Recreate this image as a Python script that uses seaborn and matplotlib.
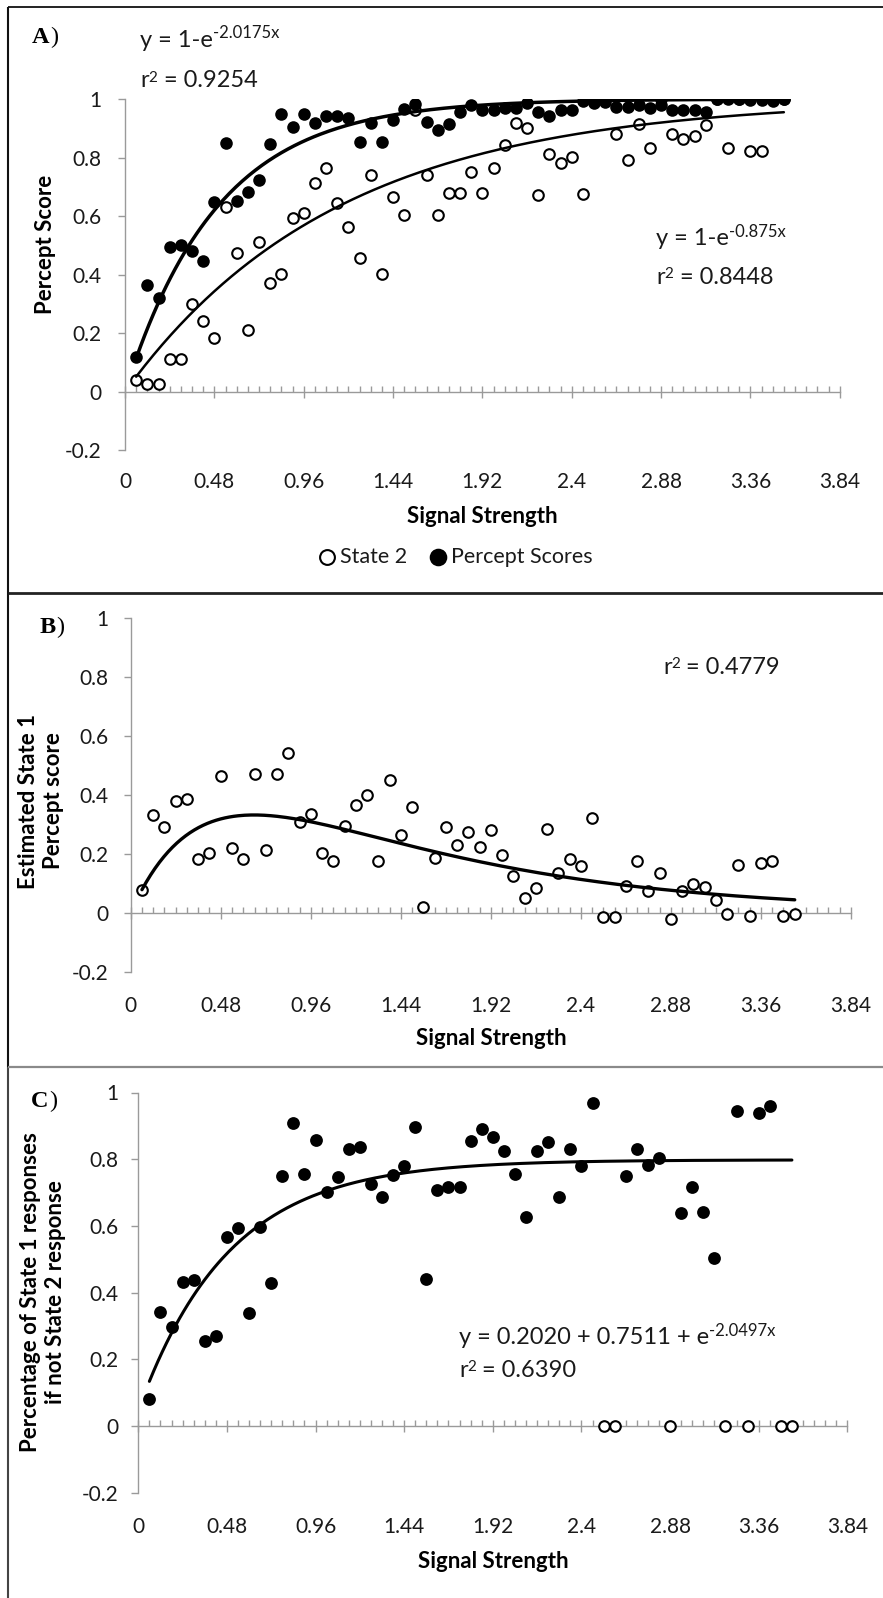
import numpy as np
import matplotlib
matplotlib.use("Agg")
import matplotlib.pyplot as plt
import seaborn as sns
from matplotlib.lines import Line2D
from matplotlib.text import Annotation
from matplotlib.ticker import FixedLocator, MultipleLocator

# ---------------- data ----------------
signal_strength = [0.06, 0.12, 0.18, 0.24, 0.30, 0.36, 0.42, 0.48, 0.54, 0.60,
                   0.66, 0.72, 0.78, 0.84, 0.90, 0.96, 1.02, 1.08, 1.14, 1.20,
                   1.26, 1.32, 1.38, 1.44, 1.50, 1.56, 1.62, 1.68, 1.74, 1.80,
                   1.86, 1.92, 1.98, 2.04, 2.10, 2.16, 2.22, 2.28, 2.34, 2.40,
                   2.46, 2.52, 2.58, 2.64, 2.70, 2.76, 2.82, 2.88, 2.94, 3.00,
                   3.06, 3.12, 3.18, 3.24, 3.30, 3.36, 3.42, 3.48, 3.54]

percept_scores = [0.12, 0.365, 0.32, 0.495, 0.50, 0.48, 0.447, 0.647, 0.849, 0.653,
                  0.681, 0.723, 0.845, 0.948, 0.903, 0.948, 0.917, 0.942, 0.942, 0.934,
                  0.854, 0.919, 0.854, 0.928, 0.965, 0.983, 0.922, 0.894, 0.915, 0.957,
                  0.98, 0.962, 0.962, 0.968, 0.97, 0.985, 0.957, 0.942, 0.962, 0.962,
                  0.994, 0.987, 0.99, 0.974, 0.974, 0.98, 0.968, 0.98, 0.962, 0.962,
                  0.962, 0.957, 1.0, 1.0, 1.0, 0.995, 0.995, 0.994, 1.0]

state2_scores = [0.04, 0.026, 0.026, 0.11, 0.11, 0.30, 0.242, 0.182, 0.63, 0.473,
                 0.21, 0.512, 0.372, 0.402, 0.592, 0.612, 0.714, 0.763, 0.644, 0.564,
                 0.456, 0.74, 0.402, 0.664, 0.604, 0.962, 0.74, 0.604, 0.68, 0.68,
                 0.752, 0.68, 0.763, 0.843, 0.919, 0.902, 0.672, 0.811, 0.782, 0.803,
                 0.674, 1.0, 1.0, 0.88, 0.79, 0.913, 0.831, 1.0, 0.88, 0.862,
                 0.874, 0.911, 1.0, 0.831, 1.0, 0.822, 0.822, 1.0, 1.0]

state1_estimate = [0.078, 0.332, 0.29, 0.379, 0.386, 0.182, 0.204, 0.465, 0.219, 0.182,
                   0.469, 0.213, 0.469, 0.542, 0.309, 0.335, 0.204, 0.176, 0.295, 0.365,
                   0.399, 0.176, 0.45, 0.264, 0.357, 0.019, 0.185, 0.29, 0.23, 0.275,
                   0.224, 0.281, 0.196, 0.125, 0.05, 0.083, 0.283, 0.134, 0.182, 0.159,
                   0.32, -0.016, -0.016, 0.089, 0.174, 0.072, 0.134, -0.021, 0.075, 0.098,
                   0.087, 0.044, -0.005, 0.162, -0.012, 0.17, 0.174, -0.012, -0.005]

c_signal = [0.06, 0.12, 0.18, 0.24, 0.30, 0.36, 0.42, 0.48, 0.54, 0.60,
            0.66, 0.72, 0.78, 0.84, 0.90, 0.96, 1.02, 1.08, 1.14, 1.20,
            1.26, 1.32, 1.38, 1.44, 1.50, 1.56, 1.62, 1.68, 1.74, 1.80,
            1.86, 1.92, 1.98, 2.04, 2.10, 2.16, 2.22, 2.28, 2.34, 2.40,
            2.46, 2.64, 2.70, 2.76, 2.82, 2.94, 3.00, 3.06, 3.12, 3.24,
            3.36, 3.42]
c_state1_share = [0.08, 0.341, 0.298, 0.431, 0.438, 0.255, 0.27, 0.568, 0.593, 0.338,
                  0.598, 0.428, 0.75, 0.908, 0.755, 0.858, 0.703, 0.748, 0.83, 0.836,
                  0.726, 0.688, 0.753, 0.781, 0.898, 0.442, 0.708, 0.718, 0.718, 0.856,
                  0.89, 0.866, 0.826, 0.755, 0.628, 0.826, 0.853, 0.688, 0.83, 0.78,
                  0.97, 0.75, 0.83, 0.783, 0.803, 0.64, 0.718, 0.643, 0.505, 0.946,
                  0.938, 0.96]
c_zero_signal = [2.52, 2.58, 2.88, 3.18, 3.30, 3.48, 3.54]
c_zero_share = [0, 0, 0, 0, 0, 0, 0]

x_ticks = [0, 0.48, 0.96, 1.44, 1.92, 2.4, 2.88, 3.36, 3.84]
x_ticklabels = ["0", "0.48", "0.96", "1.44", "1.92", "2.4", "2.88", "3.36", "3.84"]
y_ticks = [-0.2, 0, 0.2, 0.4, 0.6, 0.8, 1]
y_ticklabels = ["-0.2", "0", "0.2", "0.4", "0.6", "0.8", "1"]

# trendline coefficients
fit_percept_rate = 2.0175
fit_state2_rate = 0.875
fit_b_amp, fit_b_slow, fit_b_fast = 0.876, 0.846, 2.485
fit_c_top, fit_c_amp, fit_c_rate = 0.798, 0.7511, 2.0497
fit_x_min, fit_x_max = 0.06, 3.54

# ---------------- style ----------------
sns.set_theme(style="white")
plt.rcParams["font.family"] = ["Lato", "DejaVu Sans"]

AXIS_GRAY = "#9a9a9a"
TXT = "#1a1a1a"
W, H = 883, 1598


def fx(px):
    return px / W


def fy(py):
    return 1 - py / H


fig = plt.figure(figsize=(W / 100, H / 100), dpi=100)
fig.patch.set_facecolor("white")


def make_axes(l, r, t, b):
    return fig.add_axes([fx(l), fy(b), fx(r) - fx(l), fy(t) - fy(b)])


axA = make_axes(125, 839.7, 99, 450.2)
axB = make_axes(130.7, 851, 617.7, 971.7)
axC = make_axes(138.3, 847.3, 1092.5, 1492.7)


def style_axes(ax, ypad, xpad):
    ax.set_xlim(0, 3.84)
    ax.set_ylim(-0.2, 1)
    ax.set_facecolor("white")
    for s in ["top", "right"]:
        ax.spines[s].set_visible(False)
    ax.spines["left"].set_color(AXIS_GRAY)
    ax.spines["left"].set_linewidth(1.0)
    ax.spines["bottom"].set_position(("data", 0))
    ax.spines["bottom"].set_color(AXIS_GRAY)
    ax.spines["bottom"].set_linewidth(1.0)
    ax.xaxis.set_major_locator(FixedLocator(x_ticks))
    ax.xaxis.set_minor_locator(MultipleLocator(0.06))
    ax.tick_params(axis="x", which="major", direction="inout", length=8.5,
                   width=1, color=AXIS_GRAY, labelbottom=False, bottom=True)
    ax.tick_params(axis="x", which="minor", direction="in", length=4,
                   width=1, color=AXIS_GRAY, bottom=True)
    ax.set_yticks(y_ticks)
    ax.set_yticklabels(y_ticklabels)
    ax.tick_params(axis="y", which="major", direction="out", length=5, width=1,
                   color=AXIS_GRAY, pad=ypad, labelsize=15, labelcolor=TXT, left=True)
    ax.set_xlabel("")
    ax.set_ylabel("")
    sec = ax.secondary_xaxis("bottom")
    sec.set_xticks(x_ticks, labels=x_ticklabels)
    sec.tick_params(length=0, pad=xpad, labelsize=15, labelcolor=TXT)
    sec.spines["bottom"].set_visible(False)


# ---------------- panel A ----------------
sns.scatterplot(x=signal_strength, y=state2_scores, ax=axA, s=58, color="white",
                edgecolor="black", linewidth=1.5, zorder=3, label="State 2")
sns.scatterplot(x=signal_strength, y=percept_scores, ax=axA, s=82, color="black",
                edgecolor="black", linewidth=0, zorder=4, label="Percept Scores")
fit_x = np.linspace(fit_x_min, fit_x_max, 300)
sns.lineplot(x=fit_x, y=1 - np.exp(-fit_percept_rate * fit_x), ax=axA, color="black",
             linewidth=2.5, sort=False, estimator=None, zorder=6)
sns.lineplot(x=fit_x, y=1 - np.exp(-fit_state2_rate * fit_x), ax=axA, color="black",
             linewidth=1.8, sort=False, estimator=None, zorder=6)
handles, labels = axA.get_legend_handles_labels()
if axA.get_legend() is not None:
    axA.get_legend().remove()
style_axes(axA, ypad=12, xpad=15.4)

fig.legend(handles, labels, loc="center", bbox_to_anchor=(fx(455), fy(557)), ncol=2,
           frameon=False, fontsize=15.5, handletextpad=0.15, columnspacing=1.0,
           handlelength=0.9, markerscale=1.4, labelcolor=TXT)

# ---------------- panel B ----------------
sns.scatterplot(x=signal_strength, y=state1_estimate, ax=axB, s=58, color="white",
                edgecolor="black", linewidth=1.5, zorder=3, legend=False)
sns.lineplot(x=fit_x, y=fit_b_amp * (np.exp(-fit_b_slow * fit_x) - np.exp(-fit_b_fast * fit_x)),
             ax=axB, color="black", linewidth=2.4, sort=False, estimator=None, zorder=6)
style_axes(axB, ypad=10.8, xpad=17.7)

# ---------------- panel C ----------------
sns.scatterplot(x=c_zero_signal, y=c_zero_share, ax=axC, s=58, color="white",
                edgecolor="black", linewidth=1.5, zorder=3, legend=False)
sns.scatterplot(x=c_signal, y=c_state1_share, ax=axC, s=85, color="black",
                edgecolor="black", linewidth=0, zorder=4, legend=False)
sns.lineplot(x=fit_x, y=fit_c_top - fit_c_amp * np.exp(-fit_c_rate * fit_x), ax=axC,
             color="black", linewidth=2.2, sort=False, estimator=None, zorder=6)
style_axes(axC, ypad=9.6, xpad=17.7)

# ---------------- texts ----------------
def ftext(px, py, s, **kw):
    kw.setdefault("color", TXT)
    return fig.text(fx(px), fy(py), s, **kw)


EQ = 17


def eq_text(px, py, segments):
    """segments: list of (text, fontsize, raise_pt) chained left to right on one baseline."""
    prev = None
    for txt, fs, rise in segments:
        if prev is None:
            prev = ftext(px, py, txt, fontsize=fs, va="baseline")
        else:
            ann = Annotation(txt, xy=(1, fy(py)), xycoords=(prev, "figure fraction"),
                             xytext=(0, rise), textcoords="offset points",
                             fontsize=fs, va="baseline", ha="left", color=TXT,
                             annotation_clip=False)
            fig.add_artist(ann)
            prev = ann


SUP = 12
R2 = 11
eq_text(140, 46.7, [("y = 1-e", EQ, 0), ("-2.0175x", SUP, 6)])
eq_text(140, 87.3, [("r", EQ, 0), ("2", R2, 4), (" = 0.9254", EQ, 0)])
eq_text(656, 245, [("y = 1-e", EQ, 0), ("-0.875x", SUP, 6)])
eq_text(656, 284, [("r", EQ, 0), ("2", R2, 4), (" = 0.8448", EQ, 0)])
eq_text(663, 674, [("r", EQ, 0), ("2", R2, 4), (" = 0.4779", EQ, 0)])
eq_text(459, 1344, [("y = 0.2020 + 0.7511 + e", EQ, 0), ("-2.0497x", SUP, 6)])
eq_text(459, 1376.7, [("r", EQ, 0), ("2", R2, 4), (" = 0.6390", EQ, 0)])

# axis titles
AT = 16
ftext(482, 523, "Signal Strength", fontsize=AT, fontweight="bold", ha="center", va="baseline", color="black")
ftext(491, 1045, "Signal Strength", fontsize=AT, fontweight="bold", ha="center", va="baseline", color="black")
ftext(493, 1567.7, "Signal Strength", fontsize=AT, fontweight="bold", ha="center", va="baseline", color="black")
ftext(45, 244, "Percept Score", fontsize=AT, fontweight="bold", rotation=90,
      ha="center", va="center", color="black")
ftext(41, 801, "Estimated State 1\nPercept score", fontsize=AT, fontweight="bold",
      rotation=90, ha="center", va="center", multialignment="center", color="black")
ftext(43, 1292, "Percentage of State 1 responses\nif not State 2 response", fontsize=AT,
      fontweight="bold", rotation=90, ha="center", va="center", multialignment="center",
      color="black")

# panel letters
for px, py, s in [(31.7, 43.3, "A"), (39.3, 633, "B"), (30.7, 1107, "C")]:
    t = ftext(px, py, s, fontsize=17.5, fontweight="bold", family="Liberation Serif",
              va="baseline", color="black")
    fig.add_artist(Annotation(")", xy=(1, fy(py)), xycoords=(t, "figure fraction"),
                              xytext=(0.5, 0), textcoords="offset points", fontsize=17.5,
                              family="Liberation Serif", va="baseline", ha="left",
                              color="black", annotation_clip=False))

# ---------------- frame lines ----------------
def fline(x0, y0, x1, y1, color, lw):
    fig.add_artist(Line2D([fx(x0), fx(x1)], [fy(y0), fy(y1)], transform=fig.transFigure,
                          color=color, linewidth=lw, solid_capstyle="butt"))


fline(8, 7.3, 883, 7.3, "#222222", 1.4)
fline(8, 7, 8, 1067, "#111111", 1.5)
fline(8, 1067, 8, 1598, "#444444", 1.5)
fline(8, 593.3, 883, 593.3, "#222222", 2.0)
fline(8, 1067.3, 883, 1067.3, "#8a8a8a", 1.6)

fig.savefig("out.png", dpi=100)
